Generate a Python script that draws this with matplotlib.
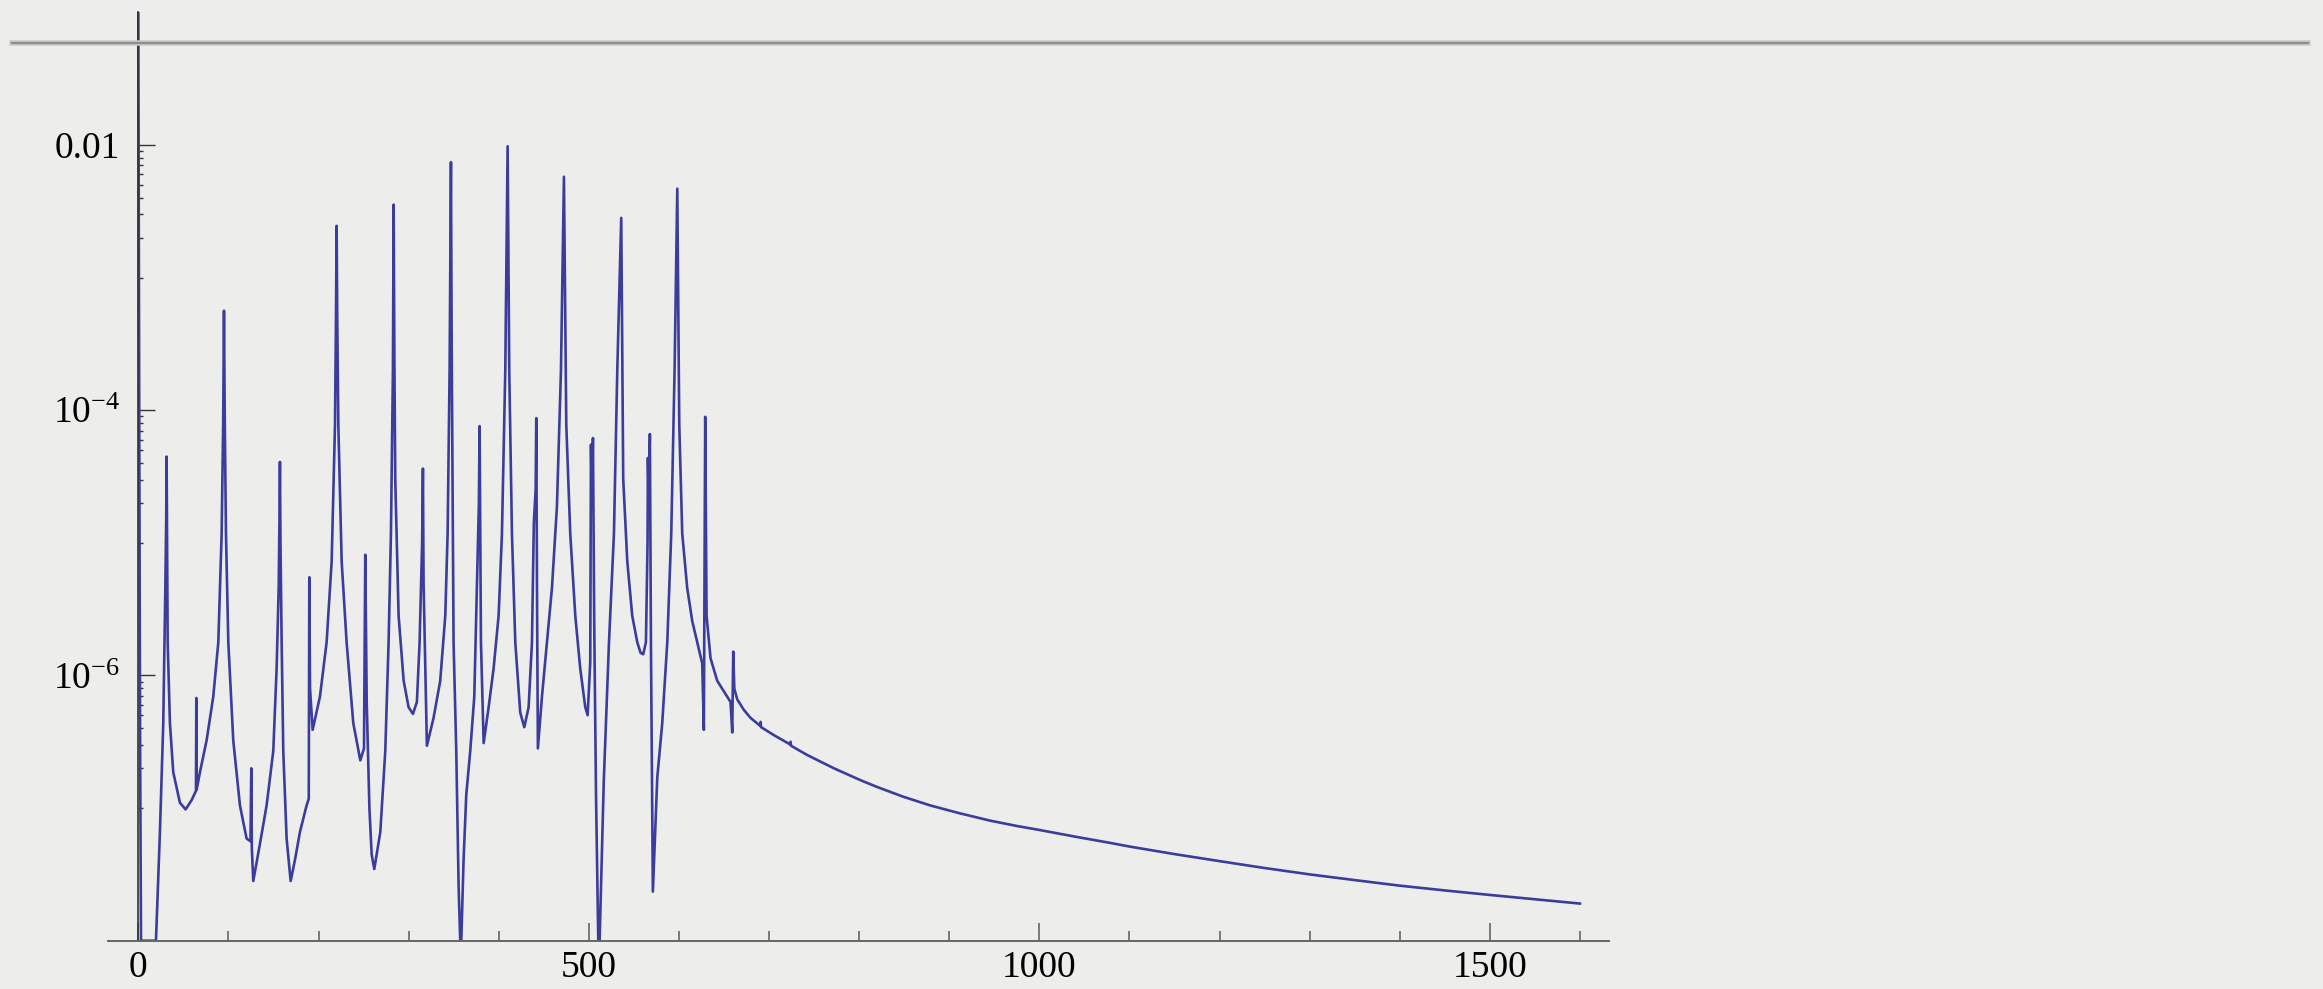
import numpy as np
import matplotlib.pyplot as plt
from matplotlib.lines import Line2D
from matplotlib.ticker import FixedLocator, FixedFormatter, NullFormatter

# response spectrum: frequency and log10 of the power, point by point along the trace
freq = [
    0, 0.5, 1.2, 2.0, 3.0, 18.5, 19.6, 24.0, 27.7, 30.0, 31.0, 31.4, 31.9, 32.6, 35.1, 38.8,
    46.2, 52.5, 59.2, 64.0, 64.4, 64.8, 68.4, 75.8, 83.2, 88.8, 92.5, 94.2, 95.1, 96.0, 97.3,
    99.9, 105.4, 112.8, 120.2, 124.5, 125.4, 126.0, 127.6, 135.0, 142.4, 149.8, 153.5, 155.8,
    156.7, 157.2, 157.8, 159.1, 160.9, 164.6, 169.1, 173.9, 179.4, 186.8, 189.2, 189.8, 190.6,
    193.5, 201.6, 209.0, 214.6, 218.3, 219.4, 220.1, 220.8, 222.0, 225.7, 231.2, 238.6, 246.4,
    250.5, 251.9, 253.5, 256.5, 259.0, 261.9, 268.6, 274.1, 277.8, 280.4, 282.6, 283.4, 284.2,
    285.2, 288.9, 294.5, 300.0, 304.8, 309.2, 312.2, 315.0, 315.9, 316.6, 320.3, 327.7, 335.1,
    340.7, 343.3, 345.5, 347.0, 347.8, 349.9, 352.9, 355.5, 357.3, 358.5, 361.0, 364.0, 368.4,
    372.9, 375.8, 378.0, 378.8, 379.5, 380.3, 383.3, 388.8, 394.3, 399.9, 403.6, 407.3, 409.9,
    411.7, 414.7, 418.4, 423.9, 428.4, 433.2, 436.9, 439.0, 441.0, 441.7, 442.6, 443.5, 448.0,
    453.5, 459.1, 464.6, 469.1, 472.4, 475.0, 479.4, 485.0, 490.5, 496.1, 498.7, 501.6, 502.4,
    503.4, 504.6, 506.0, 508.0, 510.5, 512.0, 513.5, 516.6, 522.4, 527.9, 531.6, 536.0, 538.2,
    542.7, 548.2, 553.8, 557.5, 560.4, 563.4, 565.2, 565.6, 566.5, 567.8, 569.0, 571.1, 576.0,
    581.5, 587.1, 591.5, 595.2, 598.2, 600.4, 603.7, 609.2, 614.8, 620.3, 625.9, 627.7, 629.2,
    630.7, 635.1, 642.5, 651.8, 657.3, 659.2, 660.3, 661.5, 664.7, 672.1, 679.5, 690.2, 690.7,
    691.2, 705.4, 723.4, 723.9, 724.5, 742.4, 772.0, 790.0, 801.6, 819.6, 849.2, 878.9, 912.0,
    945.6, 975.0, 1000, 1041.8, 1079, 1100, 1150, 1200, 1250, 1300, 1350, 1400, 1450, 1500, 1600,
]
log_power = [
    -0.99, -2.5, -4.5, -6.5, -8.3, -8.3, -8.0, -7.18, -6.36, -5.34, -4.8, -4.35, -5.0, -5.75, -6.36, -6.73,
    -6.96, -7.01, -6.94, -6.87, -6.17, -6.86, -6.73, -6.49, -6.16, -5.75, -4.93, -4.1, -3.25, -4.1, -4.93,
    -5.75, -6.49, -6.98, -7.23, -7.25, -6.70, -7.3, -7.55, -7.27, -6.98, -6.57, -5.95, -5.34,
    -4.8, -4.39, -5.0, -5.75, -6.57, -7.23, -7.55, -7.39, -7.18, -6.98, -6.93, -5.26, -6.1,
    -6.41, -6.16, -5.75, -5.14, -4.11, -3.3, -2.61, -3.3, -4.11, -5.14, -5.75, -6.36, -6.64,
    -6.55, -5.09, -6.2, -7.0, -7.35, -7.46, -7.18, -6.57, -5.75, -4.93, -3.70, -2.45, -3.6,
    -4.52, -5.55, -6.04, -6.24, -6.29, -6.20, -5.75, -5.0, -4.44, -5.3, -6.53, -6.32, -6.04,
    -5.55, -4.93, -3.70, -2.13, -3.5, -5.75, -6.57, -7.59, -8.3, -8.3, -7.39, -6.90, -6.57,
    -6.16, -5.34, -4.7, -4.12, -4.9, -5.75, -6.51, -6.24, -5.95, -5.55, -4.93, -3.70, -2.01,
    -3.70, -4.93, -5.75, -6.28, -6.39, -6.24, -5.75, -4.85, -4.6, -4.06, -5.5, -6.55, -6.16,
    -5.75, -5.34, -4.73, -3.70, -2.24, -4.11, -4.93, -5.55, -5.95, -6.24, -6.30, -5.9, -4.26,
    -4.7, -4.21, -5.6, -6.9, -8.3, -8.3, -7.6, -6.8, -5.75, -4.93, -3.70, -2.55, -4.52,
    -5.14, -5.55, -5.75, -5.83, -5.84, -5.75, -5.0, -4.36, -4.7, -4.18, -5.8, -7.63, -6.77,
    -6.36, -5.75, -4.93, -3.70, -2.33, -4.11, -4.93, -5.34, -5.59, -5.75, -5.91, -6.41, -4.05,
    -5.55, -5.87, -6.04, -6.14, -6.20, -6.43, -5.82, -6.1, -6.18, -6.26, -6.32, -6.38, -6.35,
    -6.39, -6.45, -6.52, -6.50, -6.53, -6.60, -6.70, -6.755, -6.79, -6.84, -6.915, -6.98, -7.04,
    -7.095, -7.135, -7.165, -7.218, -7.263, -7.29, -7.347, -7.40, -7.452, -7.50, -7.543, -7.585, -7.621, -7.655, -7.72,
]

x_major = [0, 500, 1000, 1500]
x_minor = [100, 200, 300, 400, 600, 700, 800, 900, 1100, 1200, 1300, 1400, 1600]
y_major = [1e-2, 1e-4, 1e-6]
y_labels = ['0.01', r'$10^{-4}$', r'$10^{-6}$']
# minor ticks fill only the decade just under each labelled one
y_minor = [m * d / 10 for d in y_major for m in range(1, 10)]

bg = '#edeeeb'
line_color = '#3c3c9c'

plt.rcParams['font.family'] = ['Liberation Serif', 'DejaVu Serif']
plt.rcParams['mathtext.fontset'] = 'custom'
plt.rcParams['mathtext.rm'] = 'Liberation Serif'
plt.rcParams['mathtext.it'] = 'Liberation Serif:italic'

fig = plt.figure(figsize=(23.23, 9.89), dpi=100, facecolor=bg)
ax = fig.add_axes([0.04662, 0.04884, 0.64614, 0.93873])
ax.set_facecolor(bg)

power = np.clip(10.0 ** np.array(log_power), 1e-8, None)
ax.plot(freq, power, color=line_color, lw=1.9)

ax.set_yscale('log')
ax.set_xlim(-33.3, 1632.6)
ax.set_ylim(1e-8, 0.1)

for side in ['top', 'right']:
    ax.spines[side].set_visible(False)
ax.spines['left'].set_position(('data', 0))
ax.spines['left'].set_color('#333333')
ax.spines['left'].set_linewidth(1.2)
ax.spines['bottom'].set_color('#666666')
ax.spines['bottom'].set_linewidth(1.4)

ax.xaxis.set_major_locator(FixedLocator(x_major))
ax.xaxis.set_minor_locator(FixedLocator(x_minor))
ax.xaxis.set_minor_formatter(NullFormatter())
ax.yaxis.set_major_locator(FixedLocator(y_major))
ax.yaxis.set_major_formatter(FixedFormatter(y_labels))
ax.yaxis.set_minor_locator(FixedLocator(y_minor))
ax.yaxis.set_minor_formatter(NullFormatter())

ax.tick_params(axis='x', which='major', direction='in', length=12.7, width=1.2,
               color='#666666', labelsize=27, pad=7)
ax.tick_params(axis='x', which='minor', direction='in', length=7.2, width=1.2, color='#666666')
ax.tick_params(axis='y', which='major', direction='in', length=12, width=1.0,
               color='#333333', labelsize=27, pad=13)
ax.tick_params(axis='y', which='minor', direction='in', length=3.6, width=1.0, color='#333333')

# slide rule across the top
fig.add_artist(Line2D([12 / 2323, 2308 / 2323], [1 - 43 / 989] * 2, transform=fig.transFigure,
                      color='#c8c8c6', lw=4.0))
fig.add_artist(Line2D([12 / 2323, 2308 / 2323], [1 - 43 / 989] * 2, transform=fig.transFigure,
                      color='#8f8f8f', lw=1.6))

fig.savefig('out.png', dpi=100, facecolor=bg)
plt.close(fig)
